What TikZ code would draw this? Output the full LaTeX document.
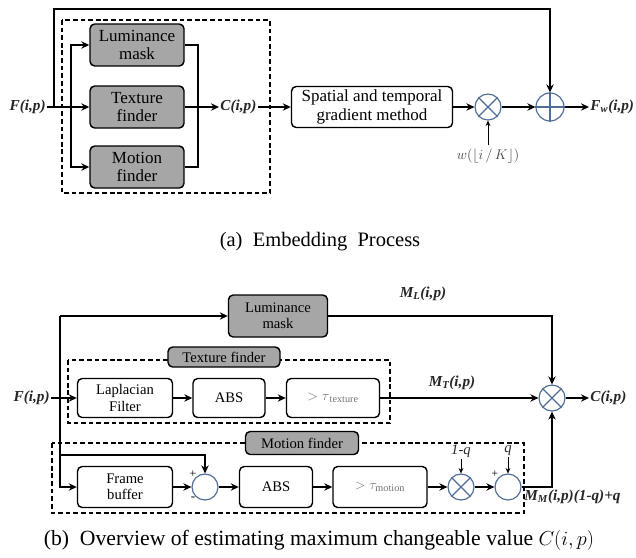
\documentclass[tikz,border=0pt]{standalone}
\usepackage{fontspec}
\setmainfont{Liberation Serif}
\usetikzlibrary{arrows.meta,positioning}

\definecolor{boxgray}{RGB}{166,166,166}
\definecolor{opblue}{RGB}{79,109,150}
\newcommand{\boxfnta}{\fontsize{14.5}{15.5}\selectfont}
\newcommand{\boxfntb}{\fontsize{12.5}{14}\selectfont}
\newcommand{\lblfnt}{\fontsize{13}{14}\selectfont\bfseries\itshape}

\tikzset{
  blk/.style={draw, rounded corners=4pt, line width=1.2pt, align=center, inner sep=1pt, fill=white},
  gblk/.style={blk, fill=boxgray},
  opnode/.style={circle, draw=opblue, line width=1pt, minimum size=0.78cm, inner sep=0pt},
  dashbox/.style={line width=1.2pt, dash pattern=on 4pt off 2.5pt},
  ln/.style={line width=1.3pt},
  arr/.style={ln, -{Stealth[length=2.4mm,width=2.2mm]}},
  thinarr/.style={line width=0.6pt, -{Stealth[length=1.6mm,width=1.4mm]}},
  lbl/.style={font=\lblfnt, inner sep=1pt, text=black!85}
}

\begin{document}
\begin{tikzpicture}[x=0.03cm,y=-0.03cm]
  \useasboundingbox (0,0) rectangle (636,558);

  %%% (a) embedding process
  \draw[dashbox] (62,20) rectangle (270,193);
  \node[gblk, font=\boxfnta, minimum width=2.82cm, minimum height=1.26cm] (lumA) at (137,45) {Luminance\\mask};
  \node[gblk, font=\boxfnta, minimum width=2.82cm, minimum height=1.26cm] (texA) at (137,107) {Texture\\finder};
  \node[gblk, font=\boxfnta, minimum width=2.82cm, minimum height=1.26cm] (motA) at (137,167) {Motion\\finder};
  \node[lbl, anchor=east] (finA) at (47,107) {F(i,p)};
  \node[lbl, anchor=west] (cA) at (219,107) {C(i,p)};
  \node[blk, font=\boxfnta, minimum width=4.83cm, minimum height=1.23cm] (spat) at (372,107) {Spatial and temporal\\gradient method};
  \node[opnode] (mulA) at (488,107) {};
  \node[opnode, minimum size=0.84cm] (addA) at (550,107) {};
  \node[lbl, anchor=west] (fw) at (589,107) {F\textsubscript{w}(i,p)};
  \node[font=\fontsize{12}{13}\selectfont\itshape, text=black!75] (wlab) at (488,156) {$w(\lfloor i\,/\,K\rfloor)$};

  \draw[opblue, line width=1pt] (mulA.north west) -- (mulA.south east) (mulA.north east) -- (mulA.south west);
  \draw[opblue, line width=1pt] (addA.north) -- (addA.south) (addA.west) -- (addA.east);

  \coordinate (byp) at (54,107);
  \coordinate (splA) at (71,107);
  \coordinate (mrgA) at (198,107);

  \draw[arr] (finA.east) -- (texA.west);
  \draw[arr] (splA) |- (lumA.west);
  \draw[arr] (splA) |- (motA.west);
  \draw[ln] (lumA.east) -| (mrgA) |- (motA.east);
  \draw[arr] (texA.east) -- (cA.west);
  \draw[arr] (cA.east) -- (spat.west);
  \draw[arr] (spat.east) -- (mulA.west);
  \draw[arr] (mulA.east) -- (addA.west);
  \draw[arr] (addA.east) -- (fw.west);
  \draw[arr] (byp) -- (54,9) -| (addA.north);
  \draw[thinarr] (wlab.north) -- (mulA.south);

  \node[font=\fontsize{17.5}{18}\selectfont] (capA) at (320,242) {(a)\ \ Embedding\ \ Process};

  %%% (b) maximum changeable value
  \draw[dashbox] (68,360) rectangle (390,423);
  \draw[dashbox] (52,443) rectangle (524,513);
  \node[gblk, font=\boxfntb, minimum width=2.97cm, minimum height=1.26cm] (lumB) at (278,316) {Luminance\\mask};
  \node[gblk, font=\boxfntb, minimum width=3.36cm, minimum height=0.6cm, inner sep=0pt] (texlab) at (224,357) {Texture finder};
  \node[gblk, font=\boxfntb, minimum width=3.39cm, minimum height=0.69cm, inner sep=0pt] (motlab) at (302,443) {Motion finder};

  \node[blk, font=\boxfntb, minimum width=2.85cm, minimum height=1.17cm] (lap) at (125,398) {Laplacian\\Filter};
  \node[blk, font=\boxfntb, minimum width=2.16cm, minimum height=1.17cm] (absT) at (229,398) {ABS};
  \node[blk, font=\boxfntb, minimum width=2.79cm, minimum height=1.17cm, text=black!55] (thrT) at (333,398) {$>\tau_{\,\mathrm{texture}}$};
  \node[opnode] (mulB) at (552,398) {};
  \node[lbl, anchor=east] (finB) at (51,398) {F(i,p)};
  \node[lbl, anchor=west] (cB) at (589,398) {C(i,p)};
  \node[lbl] (ml) at (423,294) {M\textsubscript{L}(i,p)};
  \node[lbl] (mt) at (452,383) {M\textsubscript{T}(i,p)};

  \node[blk, font=\boxfntb, minimum width=2.85cm, minimum height=1.23cm] (fbuf) at (125,487) {Frame\\buffer};
  \node[opnode] (subM) at (205,487) {};
  \node[blk, font=\boxfntb, minimum width=2.19cm, minimum height=1.23cm] (absM) at (276,487) {ABS};
  \node[blk, font=\boxfntb, minimum width=2.82cm, minimum height=1.23cm, text=black!55] (thrM) at (380,487) {$>\tau_{\mathrm{motion}}$};
  \node[opnode] (mulM) at (461,487) {};
  \node[opnode] (addM) at (508,487) {};
  \node[lbl, font=\fontsize{12.5}{13}\selectfont\itshape] (oneq) at (461,451) {1-q};
  \node[lbl, font=\fontsize{12.5}{13}\selectfont\itshape] (qlab) at (508,451) {q};
  \node[lbl, anchor=west] (mm) at (523,497) {M\textsubscript{M}(i,p)(1-q)+q};
  \node[font=\fontsize{10}{10}\selectfont] (pl1) at (193,474) {+};
  \node[font=\fontsize{11}{11}\selectfont] (mi1) at (193,499) {-};
  \node[font=\fontsize{10}{10}\selectfont] (pl2) at (495,474) {+};

  \draw[opblue, line width=1pt] (mulB.north west) -- (mulB.south east) (mulB.north east) -- (mulB.south west);
  \draw[opblue, line width=1pt] (mulM.north west) -- (mulM.south east) (mulM.north east) -- (mulM.south west);

  \coordinate (splB) at (60,316);
  \coordinate (brB) at (60,455);

  \draw[arr] (splB) -- (lumB.west);
  \draw[arr] (splB) |- (fbuf.west);
  \draw[arr] (finB.east) -- (lap.west);
  \draw[arr] (brB) -| (subM.north);
  \draw[arr] (lumB.east) -| (mulB.north);
  \draw[arr] (lap.east) -- (absT.west);
  \draw[arr] (absT.east) -- (thrT.west);
  \draw[arr] (thrT.east) -- (mulB.west);
  \draw[arr] (mulB.east) -- (cB.west);
  \draw[arr] (fbuf.east) -- (subM.west);
  \draw[arr] (subM.east) -- (absM.west);
  \draw[arr] (absM.east) -- (thrM.west);
  \draw[arr] (thrM.east) -- (mulM.west);
  \draw[arr] (mulM.east) -- (addM.west);
  \draw[arr] (addM.east) -| (mulB.south);
  \draw[thinarr] (oneq.south) -- (mulM.north);
  \draw[thinarr] (qlab.south) -- (addM.north);

  \node[font=\fontsize{18.5}{19}\selectfont] (capB) at (319,540) {(b)\ \ Overview of estimating maximum changeable value $C(i,p)$};
\end{tikzpicture}
\end{document}
